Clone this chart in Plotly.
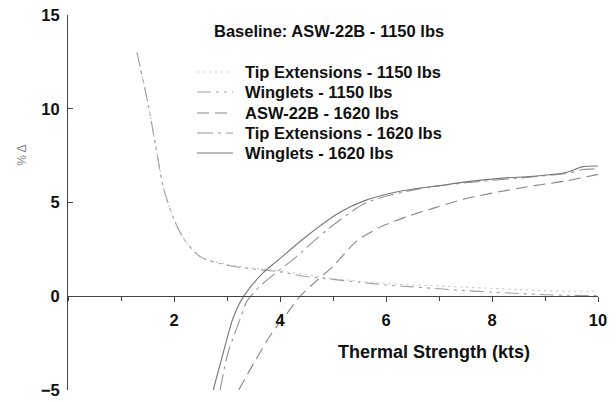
import plotly.graph_objects as go

# ---- data ----
x_tip1150 = [1.3, 1.5, 1.65, 1.8, 2.0, 2.2, 2.5, 3.0, 3.5, 4.0, 4.5, 5.0, 5.5, 6.0, 6.5, 7.0, 7.5, 8.0, 8.5, 9.0, 9.5, 10.0]
y_tip1150 = [13.0, 10.4, 8.1, 5.8, 4.1, 3.0, 2.1, 1.7, 1.5, 1.35, 1.15, 0.95, 0.8, 0.68, 0.6, 0.55, 0.48, 0.42, 0.36, 0.3, 0.27, 0.27]

x_win1150 = [1.3, 1.5, 1.65, 1.8, 2.0, 2.2, 2.5, 3.0, 3.5, 4.0, 4.5, 5.0, 5.5, 6.0, 6.5, 7.0, 7.5, 8.0, 8.5, 9.0, 9.5, 10.0]
y_win1150 = [13.0, 10.4, 8.1, 5.8, 4.1, 3.0, 2.1, 1.65, 1.45, 1.3, 1.05, 0.9, 0.75, 0.6, 0.5, 0.4, 0.3, 0.22, 0.15, 0.08, 0.05, 0.03]

x_asw1620 = [3.22, 3.5, 3.85, 4.15, 4.38, 4.7, 5.0, 5.45, 5.9, 6.4, 6.9, 7.5, 8.0, 8.8, 9.4, 10.0]
y_asw1620 = [-5.0, -3.6, -1.95, -0.85, 0.0, 0.85, 1.6, 2.95, 3.7, 4.25, 4.7, 5.2, 5.5, 5.9, 6.15, 6.5]

x_tip1620 = [2.87, 3.02, 3.25, 3.37, 3.62, 3.9, 4.25, 4.9, 5.64, 6.58, 7.5, 8.5, 9.4, 9.7, 10.0]
y_tip1620 = [-5.0, -3.0, -1.2, -0.3, 0.53, 1.2, 1.97, 3.57, 5.0, 5.7, 6.05, 6.3, 6.55, 6.75, 6.8]

x_win1620 = [2.74, 2.93, 3.11, 3.25, 3.43, 3.7, 3.94, 4.5, 5.13, 5.6, 6.26, 7.0, 7.5, 8.2, 8.77, 9.4, 9.7, 10.0]
y_win1620 = [-5.0, -3.0, -1.2, -0.3, 0.45, 1.3, 1.87, 3.2, 4.48, 5.1, 5.6, 5.9, 6.1, 6.3, 6.4, 6.6, 6.9, 6.95]

names = ["Tip Extensions - 1150 lbs", "Winglets - 1150 lbs", "ASW-22B - 1620 lbs",
         "Tip Extensions - 1620 lbs", "Winglets - 1620 lbs"]

x_tickvals = [2, 4, 6, 8, 10]
y_tickvals = [-5, 0, 5, 10, 15]

FONT = "Liberation Sans, Arial, sans-serif"
FS = 16.5

colors = ["#c4c4c4", "#a0a0a0", "#858585", "#939393", "#777777"]
dashes = ["2px,4px", "14px,5px,3px,5px,3px,5px", "12px,6px", "16px,5px,3px,5px", "solid"]
xs_all = [x_tip1150, x_win1150, x_asw1620, x_tip1620, x_win1620]
ys_all = [y_tip1150, y_win1150, y_asw1620, y_tip1620, y_win1620]

fig = go.Figure()
for xs, ys, nm, col, dash in zip(xs_all, ys_all, names, colors, dashes):
    fig.add_trace(go.Scatter(
        x=xs, y=ys, name=nm, mode="lines", showlegend=False,
        line=dict(color=col, width=1.1, dash=dash, shape="spline", smoothing=0.8),
    ))

# legend drawn as key samples + labels (paper coordinates)
leg_y = [0.848, 0.7947, 0.7387, 0.6853, 0.632]
shapes = []
annotations = []
for yy, nm, col, dash in zip(leg_y, names, colors, dashes):
    shapes.append(dict(type="line", xref="paper", yref="paper",
                       x0=0.2434, x1=0.3113, y0=yy, y1=yy,
                       line=dict(color=col, width=1.1, dash=dash)))
    annotations.append(dict(text=nm, xref="paper", yref="paper", x=0.330, y=yy,
                            xanchor="left", yanchor="middle", showarrow=False,
                            font=dict(family=FONT, size=FS, color="#111", weight="bold")))

annotations += [
    dict(text="Baseline: ASW-22B - 1150 lbs", xref="paper", yref="paper",
         x=0.4925, y=0.957, xanchor="center", yanchor="middle", showarrow=False,
         font=dict(family=FONT, size=FS, color="#111", weight="bold")),
    dict(text="Thermal Strength (kts)", xref="paper", yref="paper",
         x=0.6915, y=0.1013, xanchor="center", yanchor="middle", showarrow=False,
         font=dict(family=FONT, size=18, color="#111", weight="bold")),
    dict(text="% Δ", xref="paper", yref="paper", textangle=-90,
         x=-0.087, y=0.627, xanchor="center", yanchor="middle", showarrow=False,
         font=dict(family=FONT, size=12, color="#888")),
]

fig.update_layout(
    width=616, height=402,
    margin=dict(l=68, r=18, t=15, b=12),
    paper_bgcolor="white", plot_bgcolor="white",
    font=dict(family=FONT, size=FS, color="#111"),
    showlegend=False,
    xaxis=dict(
        range=[0, 10], showgrid=False, zeroline=False, automargin=False,
        showline=True, linecolor="#444", linewidth=1,
        anchor="free", position=0.25,
        tickvals=x_tickvals, ticks="outside", ticklen=5, tickcolor="#444",
        ticklabelstandoff=4,
        tickfont=dict(family=FONT, size=FS, color="#111", weight="bold"),
        minor=dict(dtick=1, tick0=0, ticks="outside", ticklen=4, tickcolor="#444"),
    ),
    yaxis=dict(
        range=[-5, 15], showgrid=False, zeroline=False, automargin=False,
        showline=True, linecolor="#444", linewidth=1,
        tickvals=y_tickvals, ticks="inside", ticklen=5, tickcolor="#444",
        ticklabelstandoff=4,
        tickfont=dict(family=FONT, size=FS, color="#111", weight="bold"),
    ),
    shapes=shapes,
    annotations=annotations,
)

fig.write_html("out.html", config={"displayModeBar": False},
               post_script="document.body.style.margin='0';")
